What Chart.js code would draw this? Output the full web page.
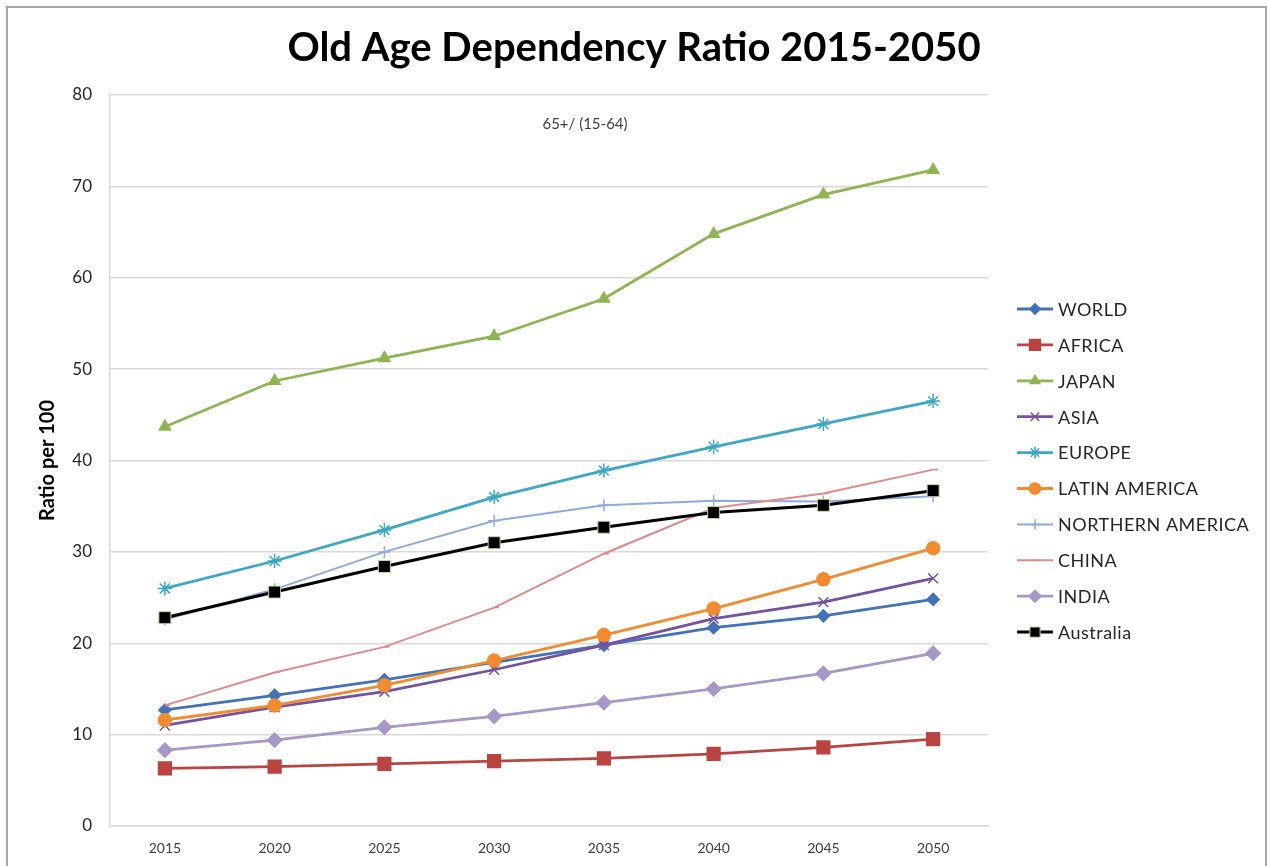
<!DOCTYPE html>
<html>
<head>
<meta charset="utf-8">
<script src="https://cdn.jsdelivr.net/npm/chart.js@4.4.1/dist/chart.umd.min.js"></script>
<style>
  html, body { margin: 0; padding: 0; background: #fff; }
  #wrap { width: 1268px; height: 866px; }
</style>
</head>
<body>
<div id="wrap"><canvas id="chart" width="1268" height="866"></canvas></div>
<script>
// values
const years = ['2015', '2020', '2025', '2030', '2035', '2040', '2045', '2050'];
const world = [12.7, 14.3, 16.0, 17.9, 19.8, 21.7, 23.0, 24.8];
const africa = [6.3, 6.5, 6.8, 7.1, 7.4, 7.9, 8.6, 9.5];
const japan = [43.7, 48.7, 51.2, 53.6, 57.7, 64.8, 69.1, 71.8];
const asia = [11.0, 13.0, 14.7, 17.1, 19.8, 22.7, 24.5, 27.1];
const europe = [26.0, 29.0, 32.4, 36.0, 38.9, 41.5, 44.0, 46.5];
const latinAmerica = [11.6, 13.2, 15.4, 18.1, 20.9, 23.8, 27.0, 30.4];
const northernAmerica = [22.6, 25.9, 30.0, 33.4, 35.1, 35.6, 35.5, 36.1];
const china = [13.2, 16.8, 19.6, 23.9, 29.8, 34.8, 36.4, 39.0];
const india = [8.3, 9.4, 10.8, 12.0, 13.5, 15.0, 16.7, 18.9];
const australia = [22.8, 25.6, 28.4, 31.0, 32.7, 34.3, 35.1, 36.7];

const yTicks = [0, 10, 20, 30, 40, 50, 60, 70, 80];

const FONT = 'Lato, "Open Sans", sans-serif';

function serie(label, data, color, style, radius, width, extra) {
    return Object.assign({
        label, data,
        borderColor: color,
        backgroundColor: color,
        pointBackgroundColor: color,
        pointBorderColor: color,
        pointStyle: style,
        pointRadius: radius,
        pointBorderWidth: 1.5,
        borderWidth: width,
        tension: 0
    }, extra || {});
}

const series = [
    serie('WORLD', world, '#4372b8', 'rectRot', 6, 2.8),
    serie('AFRICA', africa, '#b94441', 'rect', 9, 2.8),
    serie('JAPAN', japan, '#8db553', 'triangle', 6.5, 2.8),
    serie('ASIA', asia, '#7452a0', 'crossRot', 7, 2.8),
    serie('EUROPE', europe, '#3ea8c2', 'star', 7, 2.8),
    serie('LATIN AMERICA', latinAmerica, '#f08b32', 'circle', 6.5, 2.8),
    serie('NORTHERN AMERICA', northernAmerica, '#8eabdc', 'cross', 6, 2),
    serie('CHINA', china, '#dc8c8a', 'dash', 5, 2),
    serie('INDIA', india, '#a896c8', 'rectRot', 7, 2.8),
    serie('Australia', australia, '#000000', 'rect', 8.5, 3, { pointBorderColor: '#c4d79b', pointBorderWidth: 1 })
];
// Excel paints later series on top
series.forEach((s, i) => { s.order = series.length - i; });

const chartFrame = {
    id: 'chartFrame',
    beforeDraw(chart) {
        const ctx = chart.ctx;
        ctx.save();
        ctx.fillStyle = '#ffffff';
        ctx.fillRect(0, 0, chart.width, chart.height);
        ctx.strokeStyle = '#a6a6a6';
        ctx.lineWidth = 2;
        ctx.strokeRect(7, 7, 1259, 880);
        ctx.restore();
    },
    afterDraw(chart) {
        const ctx = chart.ctx;
        ctx.save();
        // subtitle inside plot area
        ctx.fillStyle = '#404040';
        ctx.font = '15px ' + FONT;
        ctx.textAlign = 'center';
        ctx.textBaseline = 'middle';
        ctx.fillText('65+/ (15-64)', 585, 124);

        // legend: line sample + marker + name
        const x0 = 1017, x1 = 1053, top = 309, step = 35.9;
        ctx.textAlign = 'left';
        ctx.font = '18px ' + FONT;
        ctx.letterSpacing = '0.5px';
        series.forEach((s, i) => {
            const y = top + i * step;
            ctx.strokeStyle = s.borderColor;
            ctx.lineWidth = s.borderWidth;
            ctx.beginPath();
            ctx.moveTo(x0, y);
            ctx.lineTo(x1, y);
            ctx.stroke();
            ctx.fillStyle = s.pointBackgroundColor;
            ctx.strokeStyle = s.pointBorderColor;
            ctx.lineWidth = s.pointBorderWidth;
            Chart.helpers.drawPoint(ctx, { pointStyle: s.pointStyle, radius: s.pointRadius * 0.85, rotation: 0, borderWidth: s.pointBorderWidth }, (x0 + x1) / 2, y);
            ctx.fillStyle = '#262626';
            ctx.fillText(s.label, 1058, y + 1);
        });
        ctx.restore();
    }
};

new Chart(document.getElementById('chart'), {
    type: 'line',
    data: { labels: years, datasets: series },
    options: {
        responsive: false,
        animation: false,
        layout: { padding: 0 },
        plugins: {
            legend: { display: false },
            tooltip: { enabled: false },
            title: {
                display: true,
                text: 'Old Age Dependency Ratio 2015-2050',
                color: '#000000',
                font: { family: FONT, size: 40, weight: 'bold', lineHeight: 1.2 },
                padding: { top: 24, bottom: 23 }
            }
        },
        scales: {
            x: {
                offset: true,
                grid: { display: false, drawTicks: false },
                border: { color: '#d9d9d9', width: 1.5 },
                ticks: { color: '#404040', font: { family: FONT, size: 14 }, padding: 14 },
                afterFit(scale) { scale.height = 40; }
            },
            y: {
                min: 0,
                max: 80,
                afterBuildTicks(scale) { scale.ticks = yTicks.map(v => ({ value: v })); },
                grid: { color: '#d9d9d9', lineWidth: 1.5, drawTicks: false },
                border: { color: '#d9d9d9', width: 1.5 },
                ticks: { color: '#262626', font: { family: FONT, size: 17 }, padding: 18 },
                title: {
                    display: true,
                    text: 'Ratio per 100',
                    color: '#000000',
                    font: { family: FONT, size: 20, weight: 'bold', lineHeight: 1.2 },
                    padding: { top: 36, bottom: 0 }
                },
                afterFit(scale) { scale.width = 110; }
            },
            legendSpace: {
                position: 'right',
                display: true,
                grid: { display: false },
                border: { display: false },
                ticks: { display: false },
                afterFit(scale) { scale.width = 280; }
            }
        }
    },
    plugins: [chartFrame]
});
</script>
</body>
</html>
